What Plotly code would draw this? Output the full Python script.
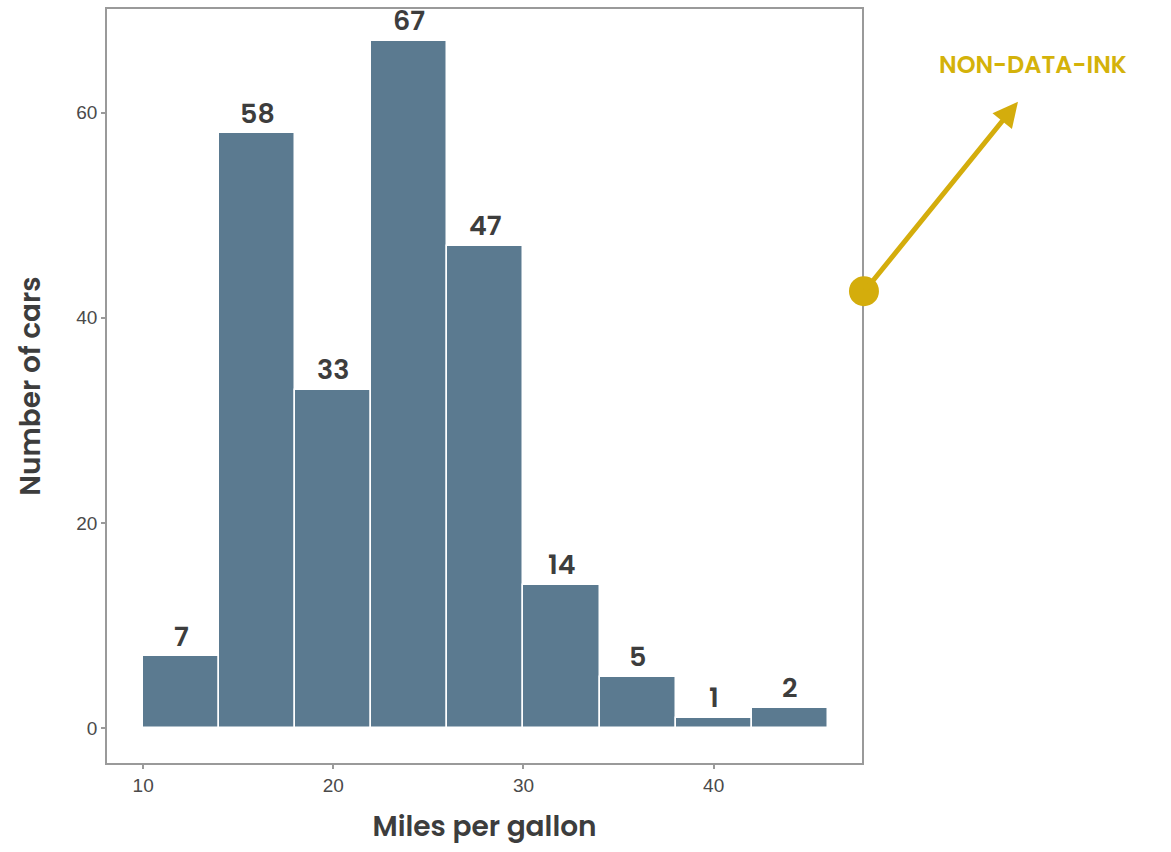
import plotly.graph_objects as go

bin_starts = [10, 14, 18, 22, 26, 30, 34, 38, 42]
bin_width = 4
counts = [7, 58, 33, 67, 47, 14, 5, 1, 2]
x_ticks = [10, 20, 30, 40]
y_ticks = [0, 20, 40, 60]

centers = [b + bin_width / 2 for b in bin_starts]

fig = go.Figure()
fig.add_trace(go.Bar(
    x=centers, y=counts, width=[bin_width] * len(counts),
    marker=dict(color="#5B7A90", line=dict(color="white", width=1.5)),
    hoverinfo="x+y", showlegend=False,
))

for cx, c in zip(centers, counts):
    fig.add_annotation(x=cx, y=c, text=str(c), showarrow=False,
                       yanchor="middle", yshift=20,
                       font=dict(family="Poppins, Inter, sans-serif", size=27, color="#3d3d3d", weight=600))

gold = "#D4AD0C"
# arrow
fig.add_annotation(xref="paper", yref="paper", x=1.2066, y=0.877, text="",
                   showarrow=True, axref="pixel", ayref="pixel", ax=-154, ay=190,
                   arrowhead=2, arrowsize=1.0, arrowwidth=5, arrowcolor=gold)
fig.add_shape(type="circle", xref="paper", yref="paper", xsizemode="pixel", ysizemode="pixel",
              xanchor=1.0026, yanchor=0.6257, x0=-15, x1=15, y0=-15, y1=15,
              fillcolor=gold, line=dict(color=gold, width=0))
fig.add_annotation(xref="paper", yref="paper", x=1.226, y=0.926, text="NON-DATA-INK",
                   showarrow=False, xanchor="center", yanchor="middle",
                   font=dict(family="Poppins, Inter, sans-serif", size=24, color="#D4B20A", weight=600))

axis_common = dict(showline=True, mirror=True, linecolor="#9a9a9a", linewidth=1.5,
                   showgrid=False, zeroline=False, ticks="outside", ticklen=4,
                   tickcolor="#9a9a9a", tickwidth=1.5,
                   tickfont=dict(family="Liberation Sans, Arial, sans-serif", size=19, color="#4a4a4a"))

fig.update_xaxes(range=[8.1, 47.8], tickvals=x_ticks,
                 title=dict(text="Miles per gallon", standoff=22,
                            font=dict(family="Poppins, Inter, sans-serif", size=28, color="#3d3d3d", weight=600)),
                 **axis_common)
fig.update_yaxes(range=[-3.4, 70.1], tickvals=y_ticks,
                 title=dict(text="Number of cars", standoff=28,
                            font=dict(family="Poppins, Inter, sans-serif", size=28, color="#3d3d3d", weight=600)),
                 **axis_common)

fig.update_layout(
    width=1171, height=852,
    margin=dict(l=107, r=309, t=7, b=89),
    plot_bgcolor="white", paper_bgcolor="white",
    bargap=0,
)

fig.write_html("out.html", config={"displayModeBar": False},
               post_script="document.body.style.margin='0px';")
